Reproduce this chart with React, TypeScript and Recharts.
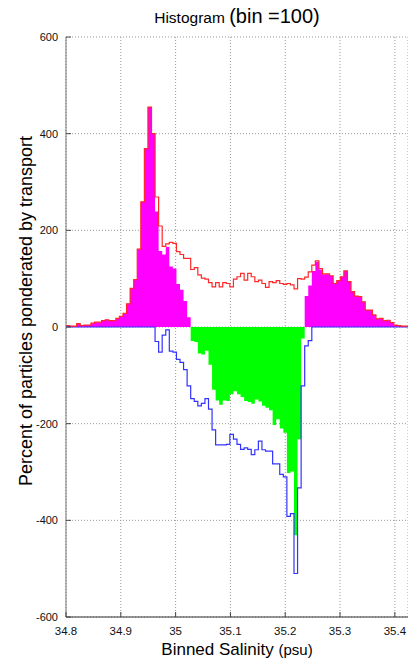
import React from 'react';
import { ComposedChart, Area, Line, XAxis, YAxis, CartesianGrid } from 'recharts';

// bins: 96 bins of 0.0065 psu starting at 34.8
const BIN_START = 34.8;
const BIN_WIDTH = 0.0065;

// positive (red outline) histogram
const RED = [
  3, 2, 2, 7, 3, 4, 4, 8, 10, 10,
  13, 15, 13, 13, 18, 22, 28, 48, 80, 98,
  161, 259, 369, 455, 400, 269, 209, 167, 172, 175,
  173, 156, 150, 142, 142, 119, 123, 108, 101, 99,
  92, 83, 92, 83, 92, 90, 83, 99, 104, 111,
  97, 111, 104, 94, 97, 90, 82, 94, 92, 96,
  90, 88, 90, 87, 79, 100, 99, 103, 114, 128,
  137, 121, 110, 110, 106, 90, 96, 104, 116, 94,
  73, 64, 63, 52, 35, 35, 25, 17, 18, 13,
  14, 9, 4, 3, 2, 2,
];

// negative (blue outline) histogram
const BLUE = [
  0, 0, 0, 0, 0, 0, 0, 0, 0, 0,
  0, 0, 0, 0, 0, 0, 0, 0, 0, 0,
  0, 0, 0, 0, 0, -30, -52, -17, -6, -50,
  -52, -67, -73, -88, -122, -148, -154, -163, -158, -148,
  -170, -213, -244, -244, -244, -243, -222, -232, -243, -253,
  -250, -253, -264, -254, -236, -254, -257, -257, -283, -283,
  -305, -310, -392, -386, -510, -333, -122, -39, -28, 0,
  0, 0, 0, 0, 0, 0, 0, 0, 0, 0,
  0, 0, 0, 0, 0, 0, 0, 0, 0, 0,
  0, 0, 0, 0, 0, 0,
];

// net bars (magenta above zero, green below)
const NET = [
  3, 2, 2, 7, 3, 4, 4, 8, 10, 10,
  13, 15, 13, 13, 18, 22, 28, 48, 80, 98,
  161, 259, 369, 455, 400, 239, 157, 150, 166, 125,
  121, 89, 77, 54, 20, -29, -31, -55, -57, -49,
  -78, -130, -152, -161, -152, -153, -139, -133, -139, -145,
  -153, -155, -159, -150, -154, -163, -167, -172, -203, -191,
  -210, -219, -302, -299, -431, -232, -24, 64, 86, 116,
  135, 119, 109, 109, 106, 90, 96, 104, 116, 94,
  73, 64, 63, 52, 35, 35, 25, 17, 18, 13,
  14, 9, 4, 3, 2, 2,
];

const X_TICKS = [34.8, 34.9, 35, 35.1, 35.2, 35.3, 35.4];
const Y_TICKS = [-600, -400, -200, 0, 200, 400, 600];

const X_END = +(BIN_START + NET.length * BIN_WIDTH).toFixed(4);

const rows = NET.map((n, i) => ({
  x: +(BIN_START + i * BIN_WIDTH).toFixed(4),
  pos: n > 0 ? n : 0,
  neg: n < 0 ? n : 0,
  red: RED[i],
  blue: BLUE[i],
}));
// closing edge for the step shapes
rows.push({ ...rows[rows.length - 1], x: X_END });

const FONT = '"Liberation Sans", Arial, sans-serif';
const X_MARGIN = 10;
const Y_MARGIN = 8;

const XTick = ({ x, y, payload }: any) => (
  <g>
    <line x1={x} x2={x} y1={y - X_MARGIN} y2={y - X_MARGIN - 5} stroke="#444" />
    <text x={x} y={y} dy="0.71em" textAnchor="middle" fontSize={11.5} fontFamily={FONT} fill="#111">
      {payload.value}
    </text>
  </g>
);

const YTick = ({ x, y, payload }: any) => (
  <g>
    <line x1={x + Y_MARGIN} x2={x + Y_MARGIN + 5} y1={y} y2={y} stroke="#444" />
    <text x={x} y={y} dy="0.35em" textAnchor="end" fontSize={11} fontFamily={FONT} fill="#111">
      {payload.value}
    </text>
  </g>
);

export default function App() {
  return (
    <div style={{ position: 'fixed', left: 0, top: 0, width: 408, height: 661, background: '#fff', fontFamily: FONT, color: '#000' }}>
      <div style={{ position: 'absolute', left: 237, top: 6, transform: 'translateX(-50%)', whiteSpace: 'nowrap', lineHeight: 1 }}>
        <span style={{ fontSize: 15.5 }}>Histogram </span>
        <span style={{ fontSize: 20 }}>(bin =100)</span>
      </div>
      <div
        style={{
          position: 'absolute', left: 26, top: 311, whiteSpace: 'nowrap', lineHeight: 1,
          transform: 'translate(-50%, -50%) rotate(-90deg)', fontSize: 18,
        }}
      >
        Percent of particles ponderated by transport
      </div>
      <div style={{ position: 'absolute', left: 237, top: 641, transform: 'translateX(-50%)', whiteSpace: 'nowrap', lineHeight: 1 }}>
        <span style={{ fontSize: 17 }}>Binned Salinity </span>
        <span style={{ fontSize: 15 }}>(psu)</span>
      </div>
      <ComposedChart
        width={408}
        height={661}
        data={rows}
        margin={{ top: 37, right: 0, bottom: 0, left: 0 }}
        style={{ position: 'absolute', left: 0, top: 0 }}
      >
        <CartesianGrid strokeDasharray="1 2" stroke="#999" />
        <XAxis
          type="number"
          dataKey="x"
          domain={[BIN_START, X_END]}
          ticks={X_TICKS}
          allowDataOverflow
          height={44}
          tickSize={0}
          tickMargin={X_MARGIN}
          tickLine={false}
          axisLine={{ stroke: '#333' }}
          tick={<XTick />}
          interval={0}
        />
        <YAxis
          type="number"
          domain={[-600, 600]}
          ticks={Y_TICKS}
          allowDataOverflow
          width={66}
          tickSize={0}
          tickMargin={Y_MARGIN}
          tickLine={false}
          axisLine={{ stroke: '#777' }}
          tick={<YTick />}
          interval={0}
        />
        <Area type="stepAfter" dataKey="pos" fill="#ff00ff" fillOpacity={1} stroke="none" baseValue={0} dot={false} activeDot={false} isAnimationActive={false} />
        <Area type="stepAfter" dataKey="neg" fill="#00ff00" fillOpacity={1} stroke="none" baseValue={0} dot={false} activeDot={false} isAnimationActive={false} />
        <Line type="stepAfter" dataKey="blue" stroke="#3333ff" strokeWidth={1.2} dot={false} activeDot={false} isAnimationActive={false} />
        <Line type="stepAfter" dataKey="red" stroke="#ff2828" strokeWidth={1.2} dot={false} activeDot={false} isAnimationActive={false} />
      </ComposedChart>
    </div>
  );
}
